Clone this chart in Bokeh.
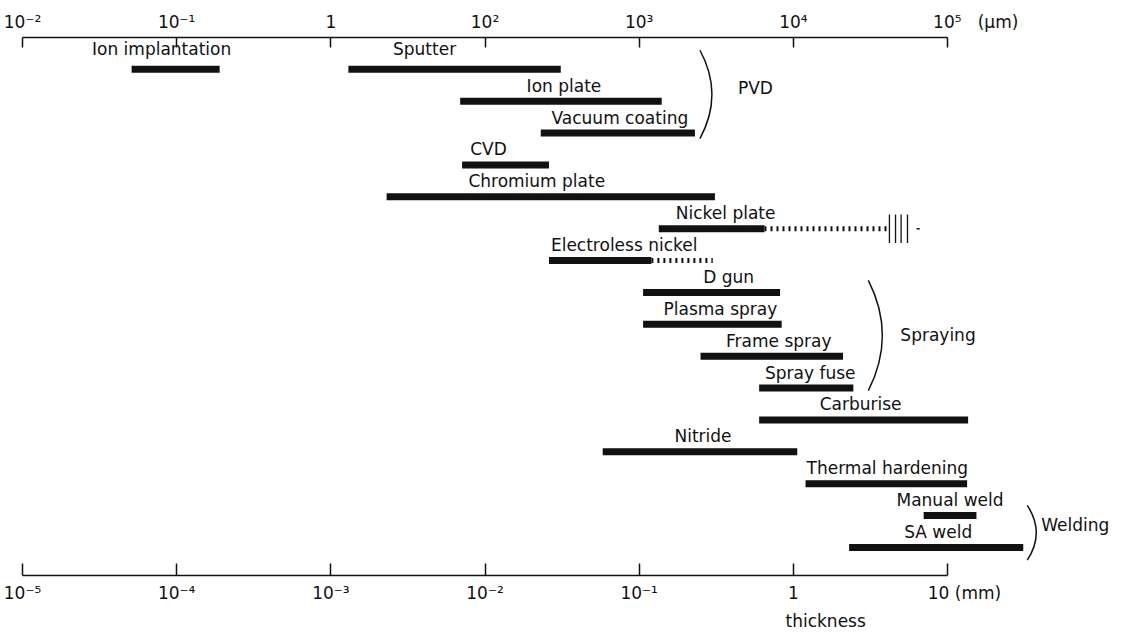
import numpy as np
from bokeh.plotting import figure
from bokeh.models import Range1d, LogAxis, FixedTicker, CustomJSTickFormatter, Title
from bokeh.core.properties import value
from bokeh.embed import file_html
from bokeh.resources import INLINE

# ---------------- data (thickness in mm) ----------------
processes = ["Ion implantation", "Sputter", "Ion plate", "Vacuum coating", "CVD",
             "Chromium plate", "Nickel plate", "Electroless nickel", "D gun",
             "Plasma spray", "Frame spray", "Spray fuse", "Carburise", "Nitride",
             "Thermal hardening", "Manual weld", "SA weld"]
rows = [0, 0, 1, 2, 3, 4, 5, 6, 7, 8, 9, 10, 11, 12, 13, 14, 15]
min_mm = [5.1e-5, 1.3e-3, 6.9e-3, 0.023, 7.1e-3, 2.3e-3, 0.134, 0.026, 0.106,
          0.106, 0.25, 0.60, 0.60, 0.058, 1.2, 7.0, 2.3]
max_mm = [1.9e-4, 0.031, 0.14, 0.23, 0.026, 0.31, 0.65, 0.12, 0.82,
          0.84, 2.1, 2.45, 13.6, 1.06, 13.4, 15.4, 31.0]

# possible (dotted) extensions of the range
ext_process = ["Nickel plate", "Electroless nickel"]
ext_from_mm = [0.65, 0.12]
ext_to_mm = [4.1, 0.30]
nickel_tail_mm = [4.2, 4.6, 5.0, 5.5]
nickel_tail_dash_mm = [6.3, 6.6]

# groups shown with brackets
groups = ["PVD", "Spraying", "Welding"]
group_members = [["Sputter", "Ion plate", "Vacuum coating"],
                 ["D gun", "Plasma spray", "Frame spray", "Spray fuse"],
                 ["Manual weld", "SA weld"]]

# axes
mm_ticks = [1e-5, 1e-4, 1e-3, 1e-2, 1e-1, 1, 10]
mm_labels = ["10⁻⁵", "10⁻⁴", "10⁻³", "10⁻²", "10⁻¹", "1", "10"]
um_labels = ["10⁻²", "10⁻¹", "1", "10²", "10³", "10⁴", "10⁵"]
mm_unit = "(mm)"
um_unit = "(μm)"
x_title = "thickness"

# ---------------- layout / style ----------------
W, H = 1121, 635
LEFT, TOP, BOTTOM = 22, 37, 60
PPD = 154.17            # pixels per decade
ROW = 31.87             # pixels per row
frame_w = W - LEFT
frame_h = H - TOP - BOTTOM
x_lo = 1e-5
x_hi = 10 ** (np.log10(x_lo) + frame_w / PPD)
y_top = -1.0
y_bot = y_top + frame_h / ROW

INK = "#111111"
FONT = "DejaVu Sans"
FS = "17px"

# horizontal nudges (px) of each bar label from the bar's centre
label_dx = [-14, -30, 3, 2, -17, -14, 14, 24, 17, 8, 7, 4, -3, 3, 1, 0, 2]
# px from bar centre up to label centre
label_rise = [20, 20] + [15.5] * (len(processes) - 2)

p = figure(width=W, height=H, x_axis_type="log",
           x_range=Range1d(x_lo, x_hi), y_range=Range1d(y_bot, y_top),
           output_backend="svg", toolbar_location=None,
           min_border_left=LEFT, min_border_right=0,
           min_border_top=TOP, min_border_bottom=BOTTOM,
           y_axis_location=None, outline_line_color=None)
p.grid.visible = False

EM = "\u2003"
NB = "\u00a0"
# unit appended to the last tick label, padded so the number stays near its tick
mm_labels_disp = mm_labels[:-1] + [EM * 2 + mm_labels[-1] + NB + mm_unit]
um_labels_disp = um_labels[:-1] + [EM * 3 + NB + um_labels[-1] + NB * 3 + um_unit]


def fmt(labels):
    return CustomJSTickFormatter(args=dict(tvals=mm_ticks, labs=labels), code="""
        let best = -1, bd = 1e9;
        for (let i = 0; i < tvals.length; i++) {
            const d = Math.abs(Math.log10(tvals[i]) - Math.log10(tick));
            if (d < bd) { bd = d; best = i; }
        }
        return bd < 1e-6 ? labs[best] : "";
    """)


def style_axis(ax, tick_len, standoff):
    ax.ticker = FixedTicker(ticks=mm_ticks)
    ax.bounds = (mm_ticks[0], mm_ticks[-1])
    ax.major_tick_in = tick_len
    ax.major_tick_out = 0
    ax.minor_tick_line_color = None
    ax.axis_line_color = INK
    ax.axis_line_width = 1.5
    ax.major_tick_line_color = INK
    ax.major_tick_line_width = 1.5
    ax.major_label_text_font = FONT
    ax.major_label_text_font_size = FS
    ax.major_label_text_color = INK
    ax.major_label_standoff = standoff


bottom_ax = p.xaxis[0]
bottom_ax.formatter = fmt(mm_labels_disp)
style_axis(bottom_ax, 12, 7)

top_ax = LogAxis()
top_ax.formatter = fmt(um_labels_disp)
style_axis(top_ax, 10, 6)
p.add_layout(top_ax, "above")

p.add_layout(Title(text=x_title, align="left", offset=763, standoff=6,
                   text_font=FONT, text_font_size=FS, text_font_style="normal",
                   text_color=INK), "below")


def shift(x, px):
    return 10 ** (np.log10(x) + px / PPD)


# bars
p.hbar(y=rows, left=min_mm, right=max_mm, height=7 / ROW,
       fill_color=INK, line_color=None)

# bar labels, above each bar
label_x = [float(shift(np.sqrt(a * b), d)) for a, b, d in zip(min_mm, max_mm, label_dx)]
label_y = [r - rise / ROW for r, rise in zip(rows, label_rise)]
p.text(x=label_x, y=label_y, text=processes, text_align="center",
       text_baseline="middle",
       text_font=value(FONT), text_font_size=FS, text_color=INK)

# dotted extensions
ext_rows = [rows[processes.index(n)] for n in ext_process]
p.segment(x0=ext_from_mm, y0=ext_rows, x1=ext_to_mm, y1=ext_rows,
          line_width=5, line_dash="2 4", line_color=INK, line_cap="butt")
nrow = rows[processes.index("Nickel plate")]
p.segment(x0=nickel_tail_mm, y0=[nrow - 0.45] * len(nickel_tail_mm),
          x1=nickel_tail_mm, y1=[nrow + 0.45] * len(nickel_tail_mm),
          line_width=1.3, line_color=INK)
p.segment(x0=[nickel_tail_dash_mm[0]], y0=[nrow], x1=[nickel_tail_dash_mm[1]], y1=[nrow],
          line_width=1.5, line_color=INK)

# group brackets
base_gap = [5, 15, 4]        # px from group's max right to bracket ends
bulge = [12, 14, 9]          # px curvature
text_gap = [26, 18, 5]       # px from bulge to group label
text_dy = [-6, 0, -8]        # px vertical shift of group label
pad_top = [0.6, 0.38, 0.32]
pad_bot = [0.17, 0.08, 0.4]

for g, members, bg, bu, tg, dy, pt, pb in zip(groups, group_members, base_gap, bulge,
                                               text_gap, text_dy, pad_top, pad_bot):
    idx = [processes.index(m) for m in members]
    xr = max(max_mm[i] for i in idx)
    r0 = min(rows[i] for i in idx) - pt
    r1 = max(rows[i] for i in idx) + pb
    xb = shift(xr, bg)
    xc = shift(xr, bg + 2 * bu)
    p.quadratic(x0=[xb], y0=[r0], x1=[xb], y1=[r1], cx=[xc], cy=[(r0 + r1) / 2],
                line_color=INK, line_width=1.5)
    p.text(x=[shift(xr, bg + bu + tg)], y=[(r0 + r1) / 2 + dy / ROW], text=[g],
           text_align="left", text_baseline="middle",
           text_font=value(FONT), text_font_size=FS, text_color=INK)

open("out.html", "w").write(file_html(p, INLINE))
